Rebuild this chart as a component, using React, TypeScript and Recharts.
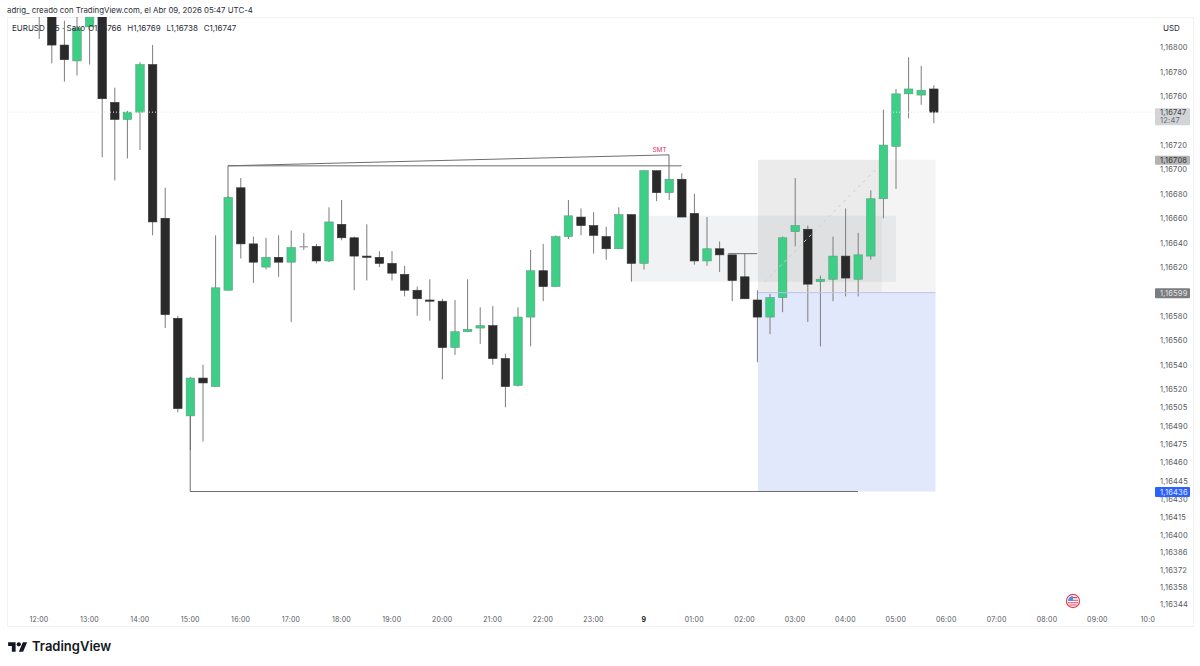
import {
  Bar,
  ComposedChart,
  ReferenceArea,
  ReferenceDot,
  ReferenceLine,
  XAxis,
  YAxis,
} from "recharts";

// 15 minute candles, index 0 = 12:00
const OPENS = [
  1.1686, 1.1685, 1.16802, 1.16789, 1.16817, 1.16845, 1.16755, 1.16741, 1.16747, 1.16786,
  1.1666, 1.16578, 1.16498, 1.16529, 1.16522, 1.16601, 1.16685, 1.16639, 1.1662, 1.16628,
  1.16624, 1.16637, 1.16637, 1.16625, 1.16655, 1.16644, 1.16629, 1.16628, 1.16623, 1.16614,
  1.16601, 1.16593, 1.16592, 1.16554, 1.16567, 1.1657, 1.16572, 1.16545, 1.16523, 1.16579,
  1.16617, 1.16604, 1.16645, 1.16661, 1.16654, 1.16645, 1.16635, 1.16663, 1.16623, 1.16699,
  1.16681, 1.16692, 1.16664, 1.16625, 1.16635, 1.1663, 1.16612, 1.16593, 1.16579, 1.16595,
  1.16649, 1.16651, 1.16608, 1.1661, 1.16629, 1.1661, 1.16629, 1.16676, 1.16719, 1.16762,
  1.16761, 1.16766,
];
const HIGHS = [
  1.1687, 1.1686, 1.16822, 1.1683, 1.1685, 1.1685, 1.16767, 1.16748, 1.16788, 1.16802,
  1.16685, 1.1658, 1.1653, 1.1654, 1.16646, 1.16678, 1.16693, 1.16645, 1.16644, 1.16646,
  1.1665, 1.16648, 1.16639, 1.16669, 1.16675, 1.16645, 1.16655, 1.16633, 1.16633, 1.16621,
  1.16604, 1.1661, 1.16594, 1.16593, 1.1661, 1.16587, 1.16588, 1.16549, 1.16587, 1.16634,
  1.16639, 1.16646, 1.16675, 1.16668, 1.16665, 1.16653, 1.16669, 1.16663, 1.16699, 1.16699,
  1.16692, 1.16697, 1.1668, 1.16661, 1.16641, 1.1663, 1.16631, 1.16601, 1.16598, 1.16645,
  1.16693, 1.16654, 1.16613, 1.16645, 1.16668, 1.16648, 1.16683, 1.16749, 1.16766, 1.16792,
  1.16785, 1.16769,
];
const LOWS = [
  1.16807, 1.16787, 1.16772, 1.16777, 1.16786, 1.1671, 1.16691, 1.16709, 1.16716, 1.16646,
  1.1657, 1.16501, 1.1647, 1.16477, 1.16522, 1.16601, 1.16627, 1.16607, 1.16618, 1.16612,
  1.16575, 1.16634, 1.16623, 1.16624, 1.16642, 1.16601, 1.16609, 1.1662, 1.16609, 1.16596,
  1.1658, 1.16576, 1.16528, 1.16548, 1.16567, 1.16557, 1.1654, 1.16505, 1.16522, 1.16555,
  1.16592, 1.16604, 1.16643, 1.16646, 1.16631, 1.16626, 1.16635, 1.16608, 1.16618, 1.16674,
  1.16675, 1.16661, 1.16622, 1.16621, 1.16616, 1.16592, 1.16594, 1.16542, 1.16565, 1.16583,
  1.16637, 1.16575, 1.16555, 1.16592, 1.16596, 1.16596, 1.16626, 1.1666, 1.16684, 1.16742,
  1.16753, 1.16738,
];
const CLOSES = [
  1.1685, 1.16802, 1.1679, 1.16816, 1.16845, 1.16758, 1.16741, 1.16747, 1.16786, 1.16657,
  1.16581, 1.16504, 1.16529, 1.16525, 1.16603, 1.16677, 1.16639, 1.16624, 1.16628, 1.16624,
  1.16636, 1.16637, 1.16625, 1.16657, 1.16644, 1.16629, 1.16628, 1.16623, 1.16615, 1.16601,
  1.16594, 1.16592, 1.16554, 1.16567, 1.16569, 1.16572, 1.16545, 1.16522, 1.16579, 1.16617,
  1.16604, 1.16645, 1.16662, 1.16654, 1.16646, 1.16635, 1.16663, 1.16623, 1.16699, 1.16681,
  1.16692, 1.16661, 1.16625, 1.16635, 1.1663, 1.16609, 1.16594, 1.16579, 1.16595, 1.16644,
  1.16654, 1.16606, 1.1661, 1.16629, 1.16611, 1.1663, 1.16676, 1.1672, 1.16762, 1.16766,
  1.16765, 1.16747,
];

const TIME_TICKS = [0, 4, 8, 12, 16, 20, 24, 28, 32, 36, 40, 44, 48, 52, 56, 60, 64, 68, 72, 76, 80, 84, 88];
const TIME_LABELS = [
  "12:00", "13:00", "14:00", "15:00", "16:00", "17:00", "18:00", "19:00", "20:00", "21:00", "22:00",
  "23:00", "9", "01:00", "02:00", "03:00", "04:00", "05:00", "06:00", "07:00", "08:00", "09:00", "10:0",
];
const PRICE_TICKS = [
  1.168, 1.1678, 1.1676, 1.1672, 1.167, 1.1668, 1.1666, 1.1664, 1.1662, 1.1658, 1.1656, 1.1654, 1.1652,
  1.16505, 1.1649, 1.16475, 1.1646, 1.16445, 1.1643, 1.16415, 1.164, 1.16386, 1.16372, 1.16358, 1.16344,
];
// tags go last so they cover the plain labels
const LAST_PRICE = 1.16747;
const TARGET_PRICE = 1.16708;
const ENTRY_PRICE = 1.16599;
const STOP_PRICE = 1.16436;

const candles = OPENS.map((open, i) => ({
  t: i,
  open,
  high: HIGHS[i],
  low: LOWS[i],
  close: CLOSES[i],
}));

const FONT = "Inter, 'Noto Sans', sans-serif";

function Candle(props: any) {
  const { x, y, width, height, payload } = props;
  const { open, high, low, close } = payload;
  const cx = x + width / 2;
  const perPrice = height / (high - low);
  const top = y + (high - Math.max(open, close)) * perPrice;
  const bodyH = Math.max(Math.abs(open - close) * perPrice, 1);
  const flat = open === close;
  const up = close >= open;
  return (
    <g>
      <line x1={cx} x2={cx} y1={y} y2={y + height} stroke="#7d7d7d" strokeWidth={1} />
      <rect
        x={cx - 4.25}
        y={top}
        width={8.5}
        height={bodyH}
        fill={flat ? "#8a8a8a" : up ? "#3ecf86" : "#2a2a2a"}
        stroke={flat ? "none" : up ? "#5a9d80" : "#333333"}
        strokeWidth={0.6}
      />
    </g>
  );
}

function TimeTick({ x, y, payload }: any) {
  const label = TIME_LABELS[TIME_TICKS.indexOf(payload.value)];
  return (
    <text
      x={x}
      y={y + 13.5}
      textAnchor="middle"
      fontFamily={FONT}
      fontSize={7}
      letterSpacing={0.2}
      fontWeight={label === "9" ? 700 : 400}
      fill={label === "9" ? "#222" : "#55585f"}
    >
      {label}
    </text>
  );
}

const TAGS: Record<string, { bg: string; color: string; top: number; h: number }> = {
  "1.16747": { bg: "#d2d4d8", color: "#3a3c42", top: -4, h: 17 },
  "1.16708": { bg: "#b3b3b3", color: "#333", top: -4, h: 9 },
  "1.16599": { bg: "#7b7c82", color: "#e4e4e4", top: -4.5, h: 10 },
  "1.16436": { bg: "#2962ff", color: "#e8eeff", top: -4.5, h: 10 },
};

function PriceTick({ x, y, payload }: any) {
  const key = payload.value.toFixed(5);
  const label = key.replace(".", ",");
  const tag = TAGS[key];
  return (
    <g fontFamily={FONT} fontSize={7.5} letterSpacing={0.2}>
      {tag && <rect x={x} y={y + tag.top} width={35} height={tag.h} fill={tag.bg} rx={1} />}
      <text x={x + 5} y={y + 3} fill={tag ? tag.color : "#55585f"}>
        {label}
      </text>
      {key === "1.16747" && (
        <text x={x + 5} y={y + 11} fill="#6a6d75">
          12:47
        </text>
      )}
    </g>
  );
}

const overlay = (left: number, top: number): React.CSSProperties => ({
  position: "absolute",
  left,
  top,
  fontFamily: FONT,
  whiteSpace: "nowrap",
});

export default function App() {
  return (
    <div style={{ position: "absolute", left: 0, top: 0, width: 1200, height: 666, background: "#fff", overflow: "hidden" }}>
      <div style={{ position: "absolute", left: 7, top: 17, width: 1185, height: 608, border: "1px solid #f1f1f1" }} />
      <ComposedChart
        width={1200}
        height={666}
        data={candles}
        margin={{ top: 17, right: 7, bottom: 40, left: 7 }}
        style={{ position: "absolute", left: 0, top: 0 }}
      >
        <XAxis
          dataKey="t"
          type="number"
          domain={[-2.54, 88.57]}
          allowDataOverflow
          ticks={TIME_TICKS}
          interval={0}
          height={18}
          axisLine={false}
          tickLine={false}
          tickSize={0}
          tickMargin={0}
          tick={<TimeTick />}
        />
        <YAxis
          orientation="right"
          type="number"
          domain={[1.163405, 1.16825]}
          allowDataOverflow
          ticks={[...PRICE_TICKS, LAST_PRICE, TARGET_PRICE, ENTRY_PRICE, STOP_PRICE]}
          interval={0}
          width={38}
          axisLine={false}
          tickLine={false}
          tickSize={0}
          tickMargin={0}
          tick={<PriceTick />}
        />

        {/* long position box */}
        <ReferenceArea x1={57.06} x2={71.15} y1={ENTRY_PRICE} y2={TARGET_PRICE} fill="#f4f4f4" fillOpacity={1} stroke="none" />
        <ReferenceArea x1={57.06} x2={66.9} y1={ENTRY_PRICE} y2={TARGET_PRICE} fill="#000" fillOpacity={0.035} stroke="none" />
        <ReferenceArea x1={57.06} x2={71.15} y1={STOP_PRICE} y2={ENTRY_PRICE} fill="#e2e8fc" fillOpacity={1} stroke="none" />
        {/* imbalance zone */}
        <ReferenceArea x1={47.06} x2={68} y1={1.16608} y2={1.16662} fill="#787b86" fillOpacity={0.1} stroke="none" />

        <ReferenceLine y={LAST_PRICE} stroke="#e6e6e6" strokeDasharray="1 2" />
        <ReferenceLine segment={[{ x: 57.06, y: ENTRY_PRICE }, { x: 71.15, y: ENTRY_PRICE }]} stroke="#b8c3ea" />
        <ReferenceLine segment={[{ x: 57.6, y: 1.16608 }, { x: 66.5, y: 1.16701 }]} stroke="#cfcfcf" strokeDasharray="3 4" />

        <Bar dataKey={(d: any) => [d.low, d.high]} barSize={9} shape={<Candle />} isAnimationActive={false} />

        {/* hand drawn levels */}
        <ReferenceLine segment={[{ x: 15, y: 1.16703 }, { x: 15, y: 1.16677 }]} stroke="#6e6e6e" />
        <ReferenceLine segment={[{ x: 15, y: 1.16703 }, { x: 51, y: 1.16703 }]} stroke="#6e6e6e" />
        <ReferenceLine segment={[{ x: 15, y: 1.16703 }, { x: 50, y: 1.16712 }]} stroke="#6e6e6e" />
        <ReferenceLine segment={[{ x: 50, y: 1.16712 }, { x: 50, y: 1.16692 }]} stroke="#6e6e6e" />
        <ReferenceLine segment={[{ x: 12, y: 1.16498 }, { x: 12, y: STOP_PRICE }]} stroke="#6e6e6e" />
        <ReferenceLine segment={[{ x: 12, y: STOP_PRICE }, { x: 65, y: STOP_PRICE }]} stroke="#6e6e6e" />
        <ReferenceLine segment={[{ x: 54.7, y: 1.16631 }, { x: 57, y: 1.16631 }]} stroke="#6e6e6e" />
        <ReferenceDot
          x={49.25}
          y={1.16716}
          r={0}
          stroke="none"
          label={{ value: "SMT", fontSize: 6.5, fill: "#e0355f", fontFamily: FONT, position: "center" }}
        />
      </ComposedChart>

      <div style={{ ...overlay(7, 5), fontSize: 7.85, color: "#2a2e39" }}>
        adrig_ creado con TradingView.com, el Abr 09, 2026 05:47 UTC-4
      </div>
      <div style={{ ...overlay(12, 23), fontSize: 8, color: "#2a2e39" }}>EURUSD · 15 · Saxo</div>
      <div style={{ ...overlay(88, 23), fontSize: 8, color: "#2a2e39", wordSpacing: 3.5 }}>
        O1,16766 H1,16769 L1,16738 C1,16747
      </div>
      <div style={{ ...overlay(1163, 23), fontSize: 8, color: "#2a2e39" }}>USD</div>

      <svg style={{ position: "absolute", left: 8, top: 639.6 }} width={19.5} height={15} viewBox="0 0 36 28">
        <path d="M14 22H7V11H0V4h14v18zM28 22h-8l7.5-18h8L28 22z" fill="#131722" />
        <circle cx={20} cy={8} r={4} fill="#131722" />
      </svg>
      <div style={{ ...overlay(32, 638), fontSize: 13, fontWeight: 600, color: "#131722" }}>TradingView</div>

      <svg style={{ position: "absolute", left: 1065, top: 593 }} width={16} height={16} viewBox="0 0 16 16">
        <circle cx={8} cy={8} r={6.6} fill="#fff" stroke="#e0415a" strokeWidth={1.2} />
        <path d="M3 8 A5 5 0 0 1 8 3 V8 Z" fill="#4f8fe8" />
        <path d="M8 4.6h4.3M8 7.2h5M3 9.8h10M4.2 12h7.6" stroke="#e0415a" strokeWidth={1.1} fill="none" />
      </svg>
    </div>
  );
}
